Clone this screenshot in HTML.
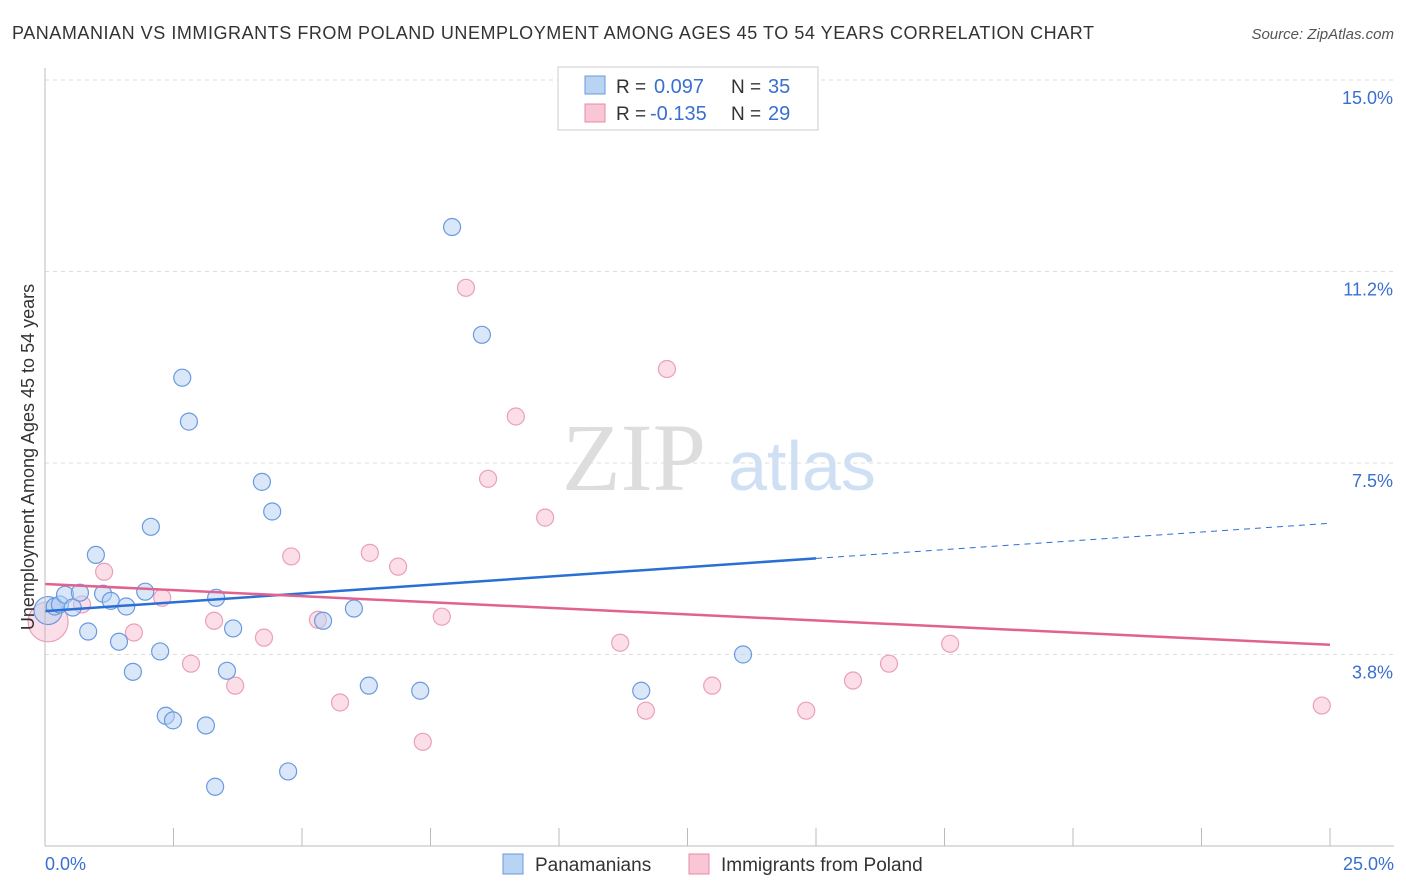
<!DOCTYPE html>
<html><head><meta charset="utf-8"><style>
body{margin:0;background:#fff;font-family:"Liberation Sans",sans-serif;}
svg{display:block}
</style></head><body>
<svg width="1406" height="892" id="c">
<text x="12" y="39" font-size="18" fill="#333" textLength="1082" lengthAdjust="spacing">PANAMANIAN VS IMMIGRANTS FROM POLAND UNEMPLOYMENT AMONG AGES 45 TO 54 YEARS CORRELATION CHART</text>
<text x="1394" y="39" font-size="15" fill="#555" font-style="italic" text-anchor="end">Source: ZipAtlas.com</text>
<g><text x="634" y="490" font-size="96" font-family="Liberation Serif,serif" fill="#ddd" text-anchor="middle">ZIP</text><text x="802" y="490" font-size="70" fill="#cfe0f5" text-anchor="middle">atlas</text></g>
<g id="grid"></g><g id="marks"></g>
<line x1="45" y1="68" x2="45" y2="846" stroke="#bbb"/>
<line x1="45" y1="846" x2="1394" y2="846" stroke="#bbb"/>
<text x="45" y="870" font-size="18" fill="#3a6fd0">0.0%</text>
<text x="1394" y="870" font-size="18" fill="#3a6fd0" text-anchor="end">25.0%</text>
<text transform="translate(34,457) rotate(-90)" font-size="18" fill="#333" text-anchor="middle">Unemployment Among Ages 45 to 54 years</text>
<g>
<rect x="558" y="67" width="260" height="63" fill="#fff" stroke="#ccc"/>
<rect x="585" y="76" width="20" height="18" fill="#b9d3f3" stroke="#6a9ae0"/>
<rect x="585" y="104" width="20" height="18" fill="#f8c6d5" stroke="#e88aa8"/>
<text x="616" y="93" font-size="19" fill="#333">R =</text>
<text x="654" y="93" font-size="20" fill="#3a6fd0">0.097</text>
<text x="731" y="93" font-size="19" fill="#333">N =</text>
<text x="768" y="93" font-size="20" fill="#3a6fd0">35</text>
<text x="616" y="120" font-size="19" fill="#333">R =</text>
<text x="650" y="120" font-size="20" fill="#3a6fd0">-0.135</text>
<text x="731" y="120" font-size="19" fill="#333">N =</text>
<text x="768" y="120" font-size="20" fill="#3a6fd0">29</text>
</g>
<g>
<rect x="503" y="854" width="20" height="20" fill="#b9d3f3" stroke="#6a9ae0"/>
<text x="535" y="871" font-size="19" fill="#333">Panamanians</text>
<rect x="689" y="854" width="20" height="20" fill="#f8c6d5" stroke="#e88aa8"/>
<text x="721" y="871" font-size="19" fill="#333">Immigrants from Poland</text>
</g>
</svg>
<script>
const yTicks=[15.0,11.25,7.5,3.75];
const yTickLabels=["15.0%","11.2%","7.5%","3.8%"];
const xTicks=[0,2.5,5,7.5,10,12.5,15,17.5,20,22.5,25];
const blueX=[0.06,0.19,0.29,0.39,0.54,0.68,0.84,0.99,1.13,1.28,1.44,1.58,1.71,1.95,2.06,2.24,2.35,2.49,2.67,2.80,3.13,3.31,3.33,3.54,3.66,4.22,4.42,4.73,5.41,6.01,6.30,7.30,7.92,8.50,11.60,13.58];
const blueY=[4.61,4.69,4.73,4.92,4.67,4.96,4.20,5.70,4.94,4.80,4.00,4.69,3.41,4.98,6.25,3.81,2.55,2.46,9.17,8.31,2.36,1.16,4.86,3.43,4.26,7.13,6.55,1.46,4.41,4.65,3.14,3.04,12.12,10.01,3.04,3.75];
const pinkX=[0.06,0.72,1.15,1.73,2.28,2.84,3.29,3.70,4.26,4.79,5.31,5.74,6.32,6.87,7.35,7.72,8.19,8.62,9.16,9.73,11.19,11.69,12.10,12.98,14.81,15.72,16.42,17.61,24.84];
const pinkY=[4.39,4.73,5.37,4.18,4.86,3.57,4.41,3.14,4.08,5.67,4.43,2.81,5.74,5.47,2.04,4.49,10.93,7.19,8.41,6.43,3.98,2.65,9.34,3.14,2.65,3.24,3.57,3.96,2.75];
const blueTrend=[4.60,6.32];
const pinkTrend=[5.13,3.94];
const NS="http://www.w3.org/2000/svg";
const sx=v=>45+v*51.4, sy=v=>846-v*51.07;
function mk(t,a,p){const e=document.createElementNS(NS,t);for(const k in a)e.setAttribute(k,a[k]);p.appendChild(e);return e;}
const g=document.getElementById('grid'),m=document.getElementById('marks');
yTicks.forEach((v,i)=>{
 const l=mk('line',{x1:45,x2:1394,y1:sy(v),y2:sy(v),stroke:'#ddd','stroke-dasharray':'4,4'},g);
 
 
 const t=mk('text',{x:1393,y:sy(v)+24,'font-size':18,fill:'#3a6fd0','text-anchor':'end'},g);
 t.textContent=yTickLabels[i];
 
 
});
xTicks.forEach(v=>{
 const l=mk('line',{x1:sx(v),x2:sx(v),y1:828,y2:846,stroke:'#bbb'},g);
 
 
});
pinkX.forEach((x,i)=>{
 const c=mk('circle',{cx:sx(x),cy:sy(pinkY[i]),r:i==0?20:8.5,fill:'rgba(248,190,208,0.5)',stroke:'#eaa0b8','stroke-width':1.2},m);
 
 
});
blueX.forEach((x,i)=>{
 const c=mk('circle',{cx:sx(x),cy:sy(blueY[i]),r:i==0?14:8.5,fill:'rgba(180,208,243,0.5)',stroke:'#6a9ae0','stroke-width':1.2},m);
 
 
});
const bAt=x=>blueTrend[0]+(blueTrend[1]-blueTrend[0])*x/25;
let l=mk('line',{x1:sx(0),y1:sy(bAt(0)),x2:sx(15),y2:sy(bAt(15)),stroke:'#2a6fd6','stroke-width':2.5},m);


l=mk('line',{x1:sx(15),y1:sy(bAt(15)),x2:sx(25),y2:sy(bAt(25)),stroke:'#2a6fd6','stroke-width':1,'stroke-dasharray':'6,5'},m);


l=mk('line',{x1:sx(0),y1:sy(pinkTrend[0]),x2:sx(25),y2:sy(pinkTrend[1]),stroke:'#e2628f','stroke-width':2.5},m);


</script>
</body></html>
